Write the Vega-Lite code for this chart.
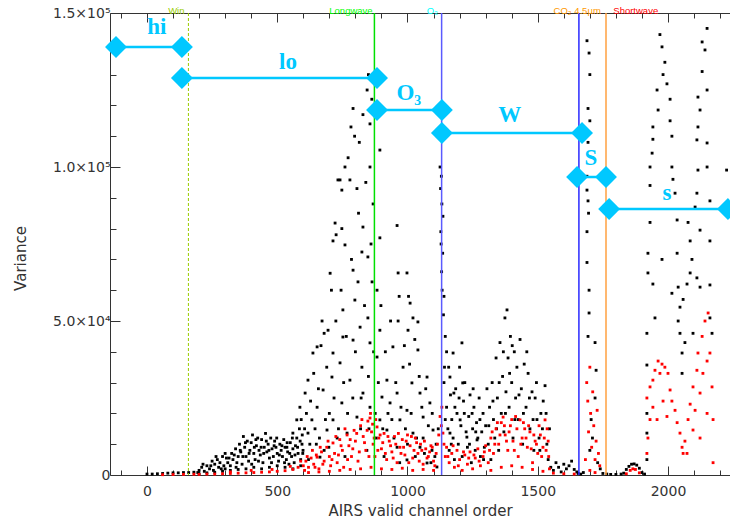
{
"$schema": "https://vega.github.io/schema/vega-lite/v6.json",
"width": 620, "height": 462,
"autosize": {"type": "none"},
"padding": {"left": 110, "top": 13, "right": 0, "bottom": 44},
"background": "white",
"config": {"view": {"stroke": null}},
"datasets": {
"pts": [
{"x":0,"y":300,"c":"b"},{"x":20,"y":300,"c":"b"},{"x":40,"y":400,"c":"b"},{"x":60,"y":500,"c":"b"},{"x":80,"y":600,"c":"b"},{"x":100,"y":700,"c":"b"},{"x":120,"y":700,"c":"b"},{"x":140,"y":800,"c":"b"},{"x":160,"y":800,"c":"b"},{"x":180,"y":900,"c":"b"},
{"x":195,"y":800,"c":"b"},{"x":200,"y":1500,"c":"b"},{"x":210,"y":2500,"c":"b"},{"x":220,"y":1200,"c":"b"},{"x":230,"y":3000,"c":"b"},{"x":240,"y":2000,"c":"b"},{"x":250,"y":4500,"c":"b"},{"x":255,"y":1500,"c":"b"},{"x":260,"y":3500,"c":"b"},{"x":270,"y":5000,"c":"b"},{"x":275,"y":2500,"c":"b"},{"x":280,"y":4000,"c":"b"},{"x":290,"y":6000,"c":"b"},{"x":295,"y":3000,"c":"b"},{"x":300,"y":2000,"c":"b"},{"x":305,"y":5500,"c":"b"},{"x":310,"y":4000,"c":"b"},{"x":320,"y":3000,"c":"b"},{"x":325,"y":7000,"c":"b"},{"x":330,"y":5000,"c":"b"},{"x":340,"y":8500,"c":"b"},{"x":345,"y":4000,"c":"b"},{"x":350,"y":6000,"c":"b"},{"x":355,"y":10000,"c":"b"},{"x":360,"y":7500,"c":"b"},{"x":365,"y":3500,"c":"b"},{"x":370,"y":12500,"c":"b"},{"x":375,"y":9000,"c":"b"},{"x":380,"y":6000,"c":"b"},{"x":385,"y":11000,"c":"b"},{"x":390,"y":4500,"c":"b"},{"x":395,"y":8000,"c":"b"},{"x":400,"y":10500,"c":"b"},{"x":405,"y":13000,"c":"b"},{"x":410,"y":7000,"c":"b"},{"x":415,"y":5000,"c":"b"},{"x":420,"y":9500,"c":"b"},{"x":425,"y":12000,"c":"b"},{"x":430,"y":8000,"c":"b"},{"x":435,"y":6500,"c":"b"},{"x":440,"y":11500,"c":"b"},{"x":445,"y":4000,"c":"b"},{"x":450,"y":9000,"c":"b"},{"x":455,"y":13500,"c":"b"},{"x":460,"y":7500,"c":"b"},{"x":465,"y":10000,"c":"b"},{"x":470,"y":5500,"c":"b"},{"x":475,"y":12000,"c":"b"},{"x":480,"y":8500,"c":"b"},{"x":485,"y":6000,"c":"b"},{"x":490,"y":11000,"c":"b"},{"x":495,"y":9000,"c":"b"},{"x":500,"y":7000,"c":"b"},{"x":505,"y":4500,"c":"b"},{"x":510,"y":10000,"c":"b"},{"x":515,"y":8000,"c":"b"},{"x":520,"y":6000,"c":"b"},{"x":525,"y":11500,"c":"b"},{"x":530,"y":9000,"c":"b"},{"x":535,"y":5000,"c":"b"},{"x":540,"y":7500,"c":"b"},{"x":545,"y":3500,"c":"b"},{"x":550,"y":10500,"c":"b"},{"x":555,"y":6000,"c":"b"},{"x":560,"y":8500,"c":"b"},{"x":565,"y":4000,"c":"b"},{"x":570,"y":9500,"c":"b"},{"x":575,"y":12000,"c":"b"},{"x":580,"y":7000,"c":"b"},{"x":585,"y":15000,"c":"b"},{"x":590,"y":5000,"c":"b"},{"x":595,"y":10000,"c":"b"},
{"x":200,"y":400,"c":"b"},{"x":230,"y":700,"c":"b"},{"x":260,"y":900,"c":"b"},{"x":290,"y":1200,"c":"b"},{"x":320,"y":1500,"c":"b"},{"x":350,"y":1800,"c":"b"},{"x":380,"y":2000,"c":"b"},{"x":410,"y":2500,"c":"b"},{"x":440,"y":2000,"c":"b"},{"x":470,"y":2500,"c":"b"},{"x":500,"y":3000,"c":"b"},{"x":530,"y":2500,"c":"b"},{"x":560,"y":2000,"c":"b"},{"x":590,"y":3000,"c":"b"},
{"x":215,"y":3500,"c":"b"},{"x":245,"y":3000,"c":"b"},{"x":265,"y":6000,"c":"b"},{"x":285,"y":2000,"c":"b"},{"x":300,"y":7000,"c":"b"},{"x":315,"y":5500,"c":"b"},{"x":335,"y":6500,"c":"b"},{"x":342,"y":2500,"c":"b"},{"x":358,"y":8000,"c":"b"},{"x":368,"y":6000,"c":"b"},{"x":378,"y":10500,"c":"b"},{"x":392,"y":7000,"c":"b"},{"x":402,"y":3500,"c":"b"},{"x":412,"y":9000,"c":"b"},{"x":418,"y":11500,"c":"b"},{"x":428,"y":4500,"c":"b"},{"x":438,"y":9000,"c":"b"},{"x":448,"y":7000,"c":"b"},{"x":458,"y":11000,"c":"b"},{"x":468,"y":8000,"c":"b"},{"x":478,"y":4000,"c":"b"},{"x":488,"y":9500,"c":"b"},{"x":498,"y":12000,"c":"b"},{"x":508,"y":6500,"c":"b"},{"x":518,"y":9500,"c":"b"},{"x":528,"y":4000,"c":"b"},{"x":538,"y":10500,"c":"b"},{"x":548,"y":7000,"c":"b"},{"x":558,"y":12000,"c":"b"},{"x":568,"y":6500,"c":"b"},{"x":578,"y":9000,"c":"b"},{"x":588,"y":11000,"c":"b"},{"x":598,"y":7000,"c":"b"},{"x":592,"y":18000,"c":"b"},{"x":596,"y":13000,"c":"b"},
{"x":637,"y":39600,"c":"b"},{"x":672,"y":50000,"c":"b"},{"x":703,"y":65500,"c":"b"},{"x":722,"y":81800,"c":"b"},{"x":741,"y":95800,"c":"b"},{"x":772,"y":103000,"c":"b"},{"x":791,"y":119000,"c":"b"},{"x":829,"y":117000,"c":"b"},{"x":845,"y":125000,"c":"b"},{"x":856,"y":114000,"c":"b"},{"x":863,"y":122000,"c":"b"},{"x":850,"y":130000,"c":"b"},{"x":733,"y":95800,"c":"b"},{"x":779,"y":95800,"c":"b"},{"x":806,"y":93000,"c":"b"},{"x":748,"y":92500,"c":"b"},{"x":856,"y":100000,"c":"b"},{"x":894,"y":105500,"c":"b"},{"x":868,"y":88000,"c":"b"},{"x":726,"y":78000,"c":"b"},{"x":748,"y":80000,"c":"b"},{"x":829,"y":80500,"c":"b"},{"x":960,"y":81000,"c":"b"},{"x":714,"y":76000,"c":"b"},{"x":760,"y":74700,"c":"b"},{"x":894,"y":77000,"c":"b"},{"x":825,"y":72400,"c":"b"},{"x":791,"y":66500,"c":"b"},{"x":708,"y":60000,"c":"b"},{"x":848,"y":70800,"c":"b"},{"x":964,"y":65600,"c":"b"},{"x":998,"y":65600,"c":"b"},{"x":810,"y":62700,"c":"b"},{"x":864,"y":62700,"c":"b"},{"x":1004,"y":58000,"c":"b"},{"x":883,"y":60000,"c":"b"},{"x":798,"y":56800,"c":"b"},{"x":752,"y":53600,"c":"b"},{"x":1010,"y":55800,"c":"b"},{"x":1021,"y":51000,"c":"b"},{"x":848,"y":51000,"c":"b"},{"x":680,"y":46000,"c":"b"},{"x":964,"y":50000,"c":"b"},{"x":1040,"y":49700,"c":"b"},{"x":818,"y":48000,"c":"b"},{"x":695,"y":47000,"c":"b"},{"x":1002,"y":47000,"c":"b"},{"x":894,"y":47000,"c":"b"},{"x":752,"y":44800,"c":"b"},{"x":791,"y":43800,"c":"b"},{"x":668,"y":42000,"c":"b"},{"x":856,"y":42900,"c":"b"},{"x":653,"y":41600,"c":"b"},{"x":944,"y":41600,"c":"b"},{"x":1040,"y":40600,"c":"b"},{"x":714,"y":39600,"c":"b"},{"x":741,"y":36400,"c":"b"},{"x":883,"y":38300,"c":"b"},{"x":640,"y":33000,"c":"b"},{"x":825,"y":35000,"c":"b"},{"x":983,"y":35000,"c":"b"},{"x":618,"y":30800,"c":"b"},{"x":710,"y":31800,"c":"b"},{"x":779,"y":30800,"c":"b"},{"x":921,"y":30800,"c":"b"},{"x":1017,"y":29900,"c":"b"},{"x":1075,"y":31800,"c":"b"},{"x":607,"y":26600,"c":"b"},{"x":676,"y":27600,"c":"b"},{"x":829,"y":26600,"c":"b"},{"x":902,"y":25300,"c":"b"},{"x":960,"y":26600,"c":"b"},{"x":1048,"y":26600,"c":"b"},{"x":587,"y":22000,"c":"b"},{"x":653,"y":22000,"c":"b"},{"x":748,"y":23400,"c":"b"},{"x":856,"y":22000,"c":"b"},{"x":933,"y":23400,"c":"b"},{"x":998,"y":21000,"c":"b"},{"x":1086,"y":23400,"c":"b"},{"x":575,"y":17900,"c":"b"},{"x":633,"y":17900,"c":"b"},{"x":714,"y":17900,"c":"b"},{"x":806,"y":18800,"c":"b"},{"x":894,"y":17900,"c":"b"},{"x":971,"y":17900,"c":"b"},{"x":1060,"y":18800,"c":"b"},{"x":560,"y":13600,"c":"b"},{"x":618,"y":13600,"c":"b"},{"x":691,"y":14600,"c":"b"},{"x":768,"y":13600,"c":"b"},{"x":921,"y":14600,"c":"b"},{"x":1021,"y":13600,"c":"b"},{"x":1098,"y":14600,"c":"b"},{"x":537,"y":9000,"c":"b"},{"x":599,"y":8000,"c":"b"},{"x":844,"y":8000,"c":"b"},{"x":960,"y":9000,"c":"b"},{"x":1048,"y":9000,"c":"b"},{"x":1094,"y":8000,"c":"b"},{"x":664,"y":5800,"c":"b"},{"x":998,"y":4900,"c":"b"},{"x":1075,"y":3900,"c":"b"},{"x":1113,"y":2600,"c":"b"},{"x":797,"y":110000,"c":"b"},{"x":815,"y":108000,"c":"b"},{"x":760,"y":100000,"c":"b"},{"x":783,"y":113000,"c":"b"},
{"x":620,"y":5000,"c":"b"},{"x":650,"y":10000,"c":"b"},{"x":680,"y":8000,"c":"b"},{"x":700,"y":20000,"c":"b"},{"x":730,"y":12000,"c":"b"},{"x":760,"y":6000,"c":"b"},{"x":790,"y":25000,"c":"b"},{"x":820,"y":15000,"c":"b"},{"x":850,"y":32000,"c":"b"},{"x":880,"y":12000,"c":"b"},{"x":910,"y":6000,"c":"b"},{"x":940,"y":18000,"c":"b"},{"x":970,"y":4000,"c":"b"},{"x":1000,"y":10000,"c":"b"},{"x":1030,"y":6000,"c":"b"},{"x":1060,"y":12000,"c":"b"},{"x":1090,"y":4000,"c":"b"},{"x":1110,"y":10000,"c":"b"},
{"x":605,"y":15000,"c":"b"},{"x":612,"y":20000,"c":"b"},{"x":625,"y":10000,"c":"b"},{"x":628,"y":24000,"c":"b"},{"x":645,"y":15000,"c":"b"},{"x":658,"y":28000,"c":"b"},{"x":662,"y":12000,"c":"b"},{"x":685,"y":18000,"c":"b"},{"x":690,"y":35000,"c":"b"},{"x":698,"y":9000,"c":"b"},{"x":718,"y":25000,"c":"b"},{"x":725,"y":50000,"c":"b"},{"x":735,"y":15000,"c":"b"},{"x":745,"y":60000,"c":"b"},{"x":755,"y":30000,"c":"b"},{"x":765,"y":45000,"c":"b"},{"x":770,"y":20000,"c":"b"},{"x":785,"y":70000,"c":"b"},{"x":800,"y":40000,"c":"b"},{"x":812,"y":85000,"c":"b"},{"x":822,"y":25000,"c":"b"},{"x":835,"y":55000,"c":"b"},{"x":840,"y":95000,"c":"b"},{"x":852,"y":15000,"c":"b"},{"x":860,"y":75000,"c":"b"},{"x":870,"y":40000,"c":"b"},{"x":876,"y":20000,"c":"b"},{"x":888,"y":30000,"c":"b"},{"x":898,"y":55000,"c":"b"},{"x":905,"y":15000,"c":"b"},{"x":915,"y":40000,"c":"b"},{"x":925,"y":20000,"c":"b"},{"x":935,"y":50000,"c":"b"},{"x":948,"y":12000,"c":"b"},{"x":955,"y":30000,"c":"b"},{"x":968,"y":58000,"c":"b"},{"x":975,"y":22000,"c":"b"},{"x":988,"y":42000,"c":"b"},{"x":992,"y":15000,"c":"b"},{"x":1008,"y":36000,"c":"b"},{"x":1014,"y":20000,"c":"b"},{"x":1028,"y":44000,"c":"b"},{"x":1035,"y":12000,"c":"b"},{"x":1045,"y":32000,"c":"b"},{"x":1055,"y":22000,"c":"b"},{"x":1065,"y":7000,"c":"b"},{"x":1070,"y":28000,"c":"b"},{"x":1080,"y":16000,"c":"b"},{"x":1095,"y":20000,"c":"b"},{"x":1105,"y":6000,"c":"b"},{"x":1118,"y":15000,"c":"b"},
{"x":1125,"y":100000,"c":"b"},{"x":1130,"y":97000,"c":"b"},{"x":1127,"y":93000,"c":"b"},{"x":1132,"y":88000,"c":"b"},{"x":1128,"y":79000,"c":"b"},{"x":1135,"y":72000,"c":"b"},{"x":1131,"y":66000,"c":"b"},{"x":1140,"y":58000,"c":"b"},{"x":1138,"y":52000,"c":"b"},{"x":1145,"y":45000,"c":"b"},{"x":1150,"y":40000,"c":"b"},{"x":1133,"y":60000,"c":"b"},{"x":1136,"y":84000,"c":"b"},{"x":1142,"y":35000,"c":"b"},{"x":1129,"y":75000,"c":"b"},
{"x":1163,"y":31800,"c":"b"},{"x":1175,"y":39600,"c":"b"},{"x":1209,"y":42900,"c":"b"},{"x":1212,"y":29900,"c":"b"},{"x":1178,"y":26600,"c":"b"},{"x":1248,"y":20000,"c":"b"},{"x":1202,"y":17900,"c":"b"},{"x":1163,"y":13600,"c":"b"},{"x":1228,"y":12300,"c":"b"},{"x":1267,"y":11400,"c":"b"},{"x":1140,"y":30000,"c":"b"},{"x":1150,"y":22000,"c":"b"},{"x":1155,"y":15000,"c":"b"},{"x":1160,"y":8000,"c":"b"},{"x":1165,"y":26000,"c":"b"},{"x":1170,"y":18000,"c":"b"},{"x":1175,"y":12000,"c":"b"},{"x":1180,"y":5000,"c":"b"},{"x":1185,"y":28000,"c":"b"},{"x":1190,"y":20000,"c":"b"},{"x":1195,"y":10000,"c":"b"},{"x":1200,"y":35000,"c":"b"},{"x":1205,"y":16000,"c":"b"},{"x":1210,"y":6000,"c":"b"},{"x":1215,"y":24000,"c":"b"},{"x":1220,"y":30000,"c":"b"},{"x":1225,"y":14000,"c":"b"},{"x":1230,"y":9000,"c":"b"},{"x":1235,"y":19000,"c":"b"},{"x":1240,"y":26000,"c":"b"},{"x":1245,"y":4000,"c":"b"},{"x":1250,"y":15000,"c":"b"},{"x":1255,"y":22000,"c":"b"},{"x":1260,"y":8000,"c":"b"},{"x":1265,"y":17000,"c":"b"},{"x":1270,"y":12000,"c":"b"},{"x":1275,"y":25000,"c":"b"},{"x":1280,"y":6000,"c":"b"},{"x":1285,"y":14000,"c":"b"},{"x":1290,"y":20000,"c":"b"},{"x":1295,"y":9000,"c":"b"},{"x":1300,"y":16000,"c":"b"},
{"x":1145,"y":18000,"c":"b"},{"x":1158,"y":35000,"c":"b"},{"x":1168,"y":10000,"c":"b"},{"x":1182,"y":22000,"c":"b"},{"x":1198,"y":25000,"c":"b"},{"x":1218,"y":20000,"c":"b"},{"x":1238,"y":10000,"c":"b"},{"x":1252,"y":28000,"c":"b"},{"x":1262,"y":14000,"c":"b"},{"x":1278,"y":18000,"c":"b"},{"x":1292,"y":5000,"c":"b"},{"x":1312,"y":16000,"c":"b"},{"x":1328,"y":24000,"c":"b"},{"x":1342,"y":15000,"c":"b"},{"x":1352,"y":30000,"c":"b"},{"x":1368,"y":40000,"c":"b"},{"x":1376,"y":20000,"c":"b"},{"x":1392,"y":33000,"c":"b"},{"x":1402,"y":42000,"c":"b"},{"x":1412,"y":18000,"c":"b"},{"x":1428,"y":26000,"c":"b"},{"x":1445,"y":20000,"c":"b"},{"x":1458,"y":40000,"c":"b"},{"x":1468,"y":25000,"c":"b"},{"x":1482,"y":18000,"c":"b"},{"x":1495,"y":30000,"c":"b"},{"x":1508,"y":8000,"c":"b"},{"x":1518,"y":15000,"c":"b"},{"x":1532,"y":20000,"c":"b"},
{"x":1305,"y":28000,"c":"b"},{"x":1310,"y":10000,"c":"b"},{"x":1315,"y":22000,"c":"b"},{"x":1320,"y":5000,"c":"b"},{"x":1325,"y":30000,"c":"b"},{"x":1330,"y":18000,"c":"b"},{"x":1335,"y":12000,"c":"b"},{"x":1340,"y":38000,"c":"b"},{"x":1345,"y":25000,"c":"b"},{"x":1350,"y":8000,"c":"b"},{"x":1355,"y":43000,"c":"b"},{"x":1360,"y":20000,"c":"b"},{"x":1365,"y":32000,"c":"b"},{"x":1370,"y":14000,"c":"b"},{"x":1374,"y":51000,"c":"b"},{"x":1378,"y":27000,"c":"b"},{"x":1382,"y":53600,"c":"b"},{"x":1386,"y":38000,"c":"b"},{"x":1390,"y":22000,"c":"b"},{"x":1395,"y":45000,"c":"b"},{"x":1400,"y":30000,"c":"b"},{"x":1405,"y":12000,"c":"b"},{"x":1410,"y":40000,"c":"b"},{"x":1415,"y":25000,"c":"b"},{"x":1420,"y":35000,"c":"b"},{"x":1425,"y":18000,"c":"b"},{"x":1432,"y":44000,"c":"b"},{"x":1437,"y":28000,"c":"b"},{"x":1442,"y":10000,"c":"b"},{"x":1448,"y":36000,"c":"b"},{"x":1455,"y":22000,"c":"b"},{"x":1463,"y":33000,"c":"b"},{"x":1470,"y":15000,"c":"b"},{"x":1478,"y":27000,"c":"b"},{"x":1485,"y":8000,"c":"b"},{"x":1490,"y":25000,"c":"b"},{"x":1497,"y":18000,"c":"b"},{"x":1505,"y":12000,"c":"b"},{"x":1512,"y":20000,"c":"b"},{"x":1521,"y":24000,"c":"b"},{"x":1528,"y":29000,"c":"b"},{"x":1535,"y":10000,"c":"b"},{"x":1540,"y":5000,"c":"b"},{"x":1545,"y":15000,"c":"b"},
{"x":1550,"y":2500,"c":"b"},{"x":1560,"y":1500,"c":"b"},{"x":1570,"y":4000,"c":"b"},{"x":1580,"y":2500,"c":"b"},{"x":1590,"y":1000,"c":"b"},{"x":1600,"y":3500,"c":"b"},{"x":1610,"y":2000,"c":"b"},{"x":1620,"y":3000,"c":"b"},{"x":1630,"y":4500,"c":"b"},{"x":1640,"y":1800,"c":"b"},{"x":1650,"y":1000,"c":"b"},{"x":1655,"y":500,"c":"b"},{"x":1665,"y":300,"c":"b"},{"x":1675,"y":800,"c":"b"},
{"x":1689,"y":141000,"c":"b"},{"x":1697,"y":137000,"c":"b"},{"x":1700,"y":130000,"c":"b"},{"x":1693,"y":119000,"c":"b"},{"x":1700,"y":115000,"c":"b"},{"x":1693,"y":108000,"c":"b"},{"x":1689,"y":97000,"c":"b"},{"x":1689,"y":92500,"c":"b"},{"x":1693,"y":89000,"c":"b"},{"x":1695,"y":85000,"c":"b"},{"x":1689,"y":79000,"c":"b"},{"x":1689,"y":69000,"c":"b"},{"x":1697,"y":60000,"c":"b"},{"x":1697,"y":52600,"c":"b"},{"x":1693,"y":45000,"c":"b"},{"x":1720,"y":43000,"c":"b"},{"x":1724,"y":34000,"c":"b"},{"x":1720,"y":25000,"c":"b"},{"x":1705,"y":18000,"c":"b"},{"x":1700,"y":8000,"c":"b"},{"x":1710,"y":12000,"c":"b"},{"x":1730,"y":4000,"c":"b"},{"x":1740,"y":2000,"c":"b"},{"x":1750,"y":500,"c":"b"},
{"x":1765,"y":300,"c":"b"},{"x":1780,"y":200,"c":"b"},{"x":1800,"y":200,"c":"b"},{"x":1820,"y":300,"c":"b"},{"x":1830,"y":600,"c":"b"},{"x":1840,"y":1800,"c":"b"},{"x":1850,"y":2800,"c":"b"},{"x":1860,"y":3500,"c":"b"},{"x":1870,"y":3600,"c":"b"},{"x":1880,"y":3200,"c":"b"},{"x":1890,"y":2200,"c":"b"},{"x":1900,"y":800,"c":"b"},{"x":1910,"y":300,"c":"b"},
{"x":1969,"y":143000,"c":"b"},{"x":1977,"y":139000,"c":"b"},{"x":1988,"y":134000,"c":"b"},{"x":1981,"y":130000,"c":"b"},{"x":1996,"y":127000,"c":"b"},{"x":1958,"y":125000,"c":"b"},{"x":2008,"y":122000,"c":"b"},{"x":1962,"y":118500,"c":"b"},{"x":1942,"y":113000,"c":"b"},{"x":2008,"y":115000,"c":"b"},{"x":1942,"y":109000,"c":"b"},{"x":2015,"y":110000,"c":"b"},{"x":1939,"y":104500,"c":"b"},{"x":1931,"y":100000,"c":"b"},{"x":2015,"y":100000,"c":"b"},{"x":1931,"y":94000,"c":"b"},{"x":2019,"y":96000,"c":"b"},{"x":2027,"y":91500,"c":"b"},{"x":1931,"y":82000,"c":"b"},{"x":2035,"y":82800,"c":"b"},{"x":1923,"y":72000,"c":"b"},{"x":1977,"y":70000,"c":"b"},{"x":2035,"y":72000,"c":"b"},{"x":1923,"y":65600,"c":"b"},{"x":1942,"y":62000,"c":"b"},{"x":2039,"y":61000,"c":"b"},{"x":2015,"y":59000,"c":"b"},{"x":2046,"y":54500,"c":"b"},{"x":1950,"y":51000,"c":"b"},{"x":2039,"y":50000,"c":"b"},{"x":1919,"y":46000,"c":"b"},{"x":2046,"y":46000,"c":"b"},{"x":2054,"y":39600,"c":"b"},{"x":1919,"y":35700,"c":"b"},{"x":2054,"y":33000,"c":"b"},{"x":1919,"y":20000,"c":"b"},{"x":1919,"y":13600,"c":"b"},{"x":1919,"y":5000,"c":"b"},
{"x":2150,"y":145000,"c":"b"},{"x":2131,"y":140600,"c":"b"},{"x":2142,"y":138000,"c":"b"},{"x":2131,"y":131000,"c":"b"},{"x":2150,"y":125000,"c":"b"},{"x":2115,"y":122700,"c":"b"},{"x":2123,"y":118500,"c":"b"},{"x":2115,"y":113000,"c":"b"},{"x":2150,"y":107800,"c":"b"},{"x":2111,"y":108800,"c":"b"},{"x":2115,"y":99000,"c":"b"},{"x":2150,"y":100000,"c":"b"},{"x":2111,"y":91500,"c":"b"},{"x":2161,"y":89000,"c":"b"},{"x":2104,"y":87000,"c":"b"},{"x":2077,"y":82000,"c":"b"},{"x":2123,"y":79500,"c":"b"},{"x":2085,"y":76000,"c":"b"},{"x":2161,"y":76000,"c":"b"},{"x":2092,"y":70000,"c":"b"},{"x":2085,"y":65600,"c":"b"},{"x":2111,"y":64000,"c":"b"},{"x":2073,"y":62000,"c":"b"},{"x":2123,"y":61000,"c":"b"},{"x":2161,"y":61700,"c":"b"},{"x":2058,"y":57000,"c":"b"},{"x":2161,"y":51000,"c":"b"},{"x":2096,"y":46000,"c":"b"},{"x":2065,"y":43000,"c":"b"},{"x":2169,"y":46000,"c":"b"},{"x":2225,"y":99000,"c":"b"},
{"x":60,"y":100,"c":"r"},{"x":100,"y":150,"c":"r"},{"x":140,"y":200,"c":"r"},{"x":180,"y":250,"c":"r"},
{"x":200,"y":200,"c":"r"},{"x":230,"y":300,"c":"r"},{"x":260,"y":300,"c":"r"},{"x":290,"y":400,"c":"r"},{"x":320,"y":500,"c":"r"},{"x":350,"y":600,"c":"r"},{"x":380,"y":700,"c":"r"},{"x":410,"y":800,"c":"r"},{"x":440,"y":900,"c":"r"},{"x":470,"y":1000,"c":"r"},{"x":500,"y":1200,"c":"r"},{"x":530,"y":1400,"c":"r"},{"x":560,"y":1800,"c":"r"},{"x":580,"y":2500,"c":"r"},{"x":320,"y":1000,"c":"r"},{"x":400,"y":1500,"c":"r"},{"x":480,"y":1800,"c":"r"},{"x":550,"y":2800,"c":"r"},{"x":590,"y":4500,"c":"r"},
{"x":600,"y":3000,"c":"r"},{"x":605,"y":1500,"c":"r"},{"x":610,"y":4500,"c":"r"},{"x":620,"y":2500,"c":"r"},{"x":630,"y":5500,"c":"r"},{"x":640,"y":3500,"c":"r"},{"x":650,"y":6500,"c":"r"},{"x":653,"y":5800,"c":"r"},{"x":660,"y":2000,"c":"r"},{"x":670,"y":7500,"c":"r"},{"x":680,"y":4500,"c":"r"},{"x":690,"y":9000,"c":"r"},{"x":700,"y":6000,"c":"r"},{"x":705,"y":3000,"c":"r"},{"x":714,"y":10400,"c":"r"},{"x":720,"y":7000,"c":"r"},{"x":730,"y":4000,"c":"r"},{"x":740,"y":11500,"c":"r"},{"x":750,"y":8000,"c":"r"},{"x":755,"y":2500,"c":"r"},{"x":768,"y":13000,"c":"r"},{"x":775,"y":9500,"c":"r"},{"x":785,"y":6000,"c":"r"},{"x":795,"y":14500,"c":"r"},{"x":800,"y":11000,"c":"r"},{"x":810,"y":4500,"c":"r"},{"x":820,"y":16000,"c":"r"},{"x":830,"y":12500,"c":"r"},{"x":840,"y":8000,"c":"r"},{"x":848,"y":17500,"c":"r"},{"x":856,"y":18500,"c":"r"},{"x":862,"y":14000,"c":"r"},{"x":868,"y":10000,"c":"r"},{"x":875,"y":6000,"c":"r"},{"x":883,"y":15600,"c":"r"},{"x":890,"y":12000,"c":"r"},{"x":900,"y":8500,"c":"r"},{"x":910,"y":13500,"c":"r"},{"x":920,"y":5000,"c":"r"},{"x":930,"y":11000,"c":"r"},{"x":940,"y":7500,"c":"r"},{"x":950,"y":12500,"c":"r"},{"x":960,"y":4000,"c":"r"},{"x":971,"y":9000,"c":"r"},{"x":980,"y":11500,"c":"r"},{"x":990,"y":6500,"c":"r"},{"x":1000,"y":13000,"c":"r"},{"x":1010,"y":9500,"c":"r"},{"x":1020,"y":5500,"c":"r"},{"x":1030,"y":12000,"c":"r"},{"x":1040,"y":7000,"c":"r"},{"x":1050,"y":10000,"c":"r"},{"x":1060,"y":3500,"c":"r"},{"x":1070,"y":8500,"c":"r"},{"x":1080,"y":6000,"c":"r"},{"x":1090,"y":9500,"c":"r"},{"x":1100,"y":4500,"c":"r"},{"x":1110,"y":7000,"c":"r"},{"x":1120,"y":13000,"c":"r"},{"x":1125,"y":19000,"c":"r"},{"x":1130,"y":16000,"c":"r"},{"x":1132,"y":22000,"c":"r"},{"x":1136,"y":13600,"c":"r"},{"x":1140,"y":10000,"c":"r"},{"x":1145,"y":6000,"c":"r"},
{"x":615,"y":6000,"c":"r"},{"x":635,"y":8000,"c":"r"},{"x":645,"y":2500,"c":"r"},{"x":665,"y":9000,"c":"r"},{"x":675,"y":3500,"c":"r"},{"x":695,"y":11000,"c":"r"},{"x":710,"y":5000,"c":"r"},{"x":725,"y":12500,"c":"r"},{"x":735,"y":6500,"c":"r"},{"x":745,"y":9500,"c":"r"},{"x":760,"y":15000,"c":"r"},{"x":770,"y":5000,"c":"r"},{"x":780,"y":11500,"c":"r"},{"x":790,"y":8500,"c":"r"},{"x":805,"y":13500,"c":"r"},{"x":815,"y":7500,"c":"r"},{"x":825,"y":18000,"c":"r"},{"x":835,"y":10500,"c":"r"},{"x":845,"y":14500,"c":"r"},{"x":852,"y":6000,"c":"r"},{"x":858,"y":20000,"c":"r"},{"x":866,"y":16500,"c":"r"},{"x":872,"y":12000,"c":"r"},{"x":878,"y":18000,"c":"r"},{"x":886,"y":8000,"c":"r"},{"x":895,"y":13000,"c":"r"},{"x":905,"y":10500,"c":"r"},{"x":915,"y":7000,"c":"r"},{"x":925,"y":12500,"c":"r"},{"x":935,"y":9500,"c":"r"},{"x":945,"y":5500,"c":"r"},{"x":955,"y":10000,"c":"r"},{"x":965,"y":13500,"c":"r"},{"x":975,"y":7000,"c":"r"},{"x":985,"y":9000,"c":"r"},{"x":995,"y":11000,"c":"r"},{"x":1005,"y":4000,"c":"r"},{"x":1015,"y":12500,"c":"r"},{"x":1025,"y":8000,"c":"r"},{"x":1035,"y":10500,"c":"r"},{"x":1045,"y":4500,"c":"r"},{"x":1055,"y":8000,"c":"r"},{"x":1065,"y":11000,"c":"r"},{"x":1075,"y":5500,"c":"r"},{"x":1085,"y":7500,"c":"r"},{"x":1095,"y":9000,"c":"r"},{"x":1105,"y":3000,"c":"r"},{"x":1115,"y":10000,"c":"r"},
{"x":620,"y":800,"c":"r"},{"x":660,"y":1000,"c":"r"},{"x":700,"y":1200,"c":"r"},{"x":740,"y":1500,"c":"r"},{"x":780,"y":1800,"c":"r"},{"x":820,"y":2000,"c":"r"},{"x":860,"y":2500,"c":"r"},{"x":900,"y":2000,"c":"r"},{"x":940,"y":1800,"c":"r"},{"x":980,"y":2200,"c":"r"},{"x":1020,"y":1500,"c":"r"},{"x":1060,"y":1800,"c":"r"},{"x":1100,"y":1500,"c":"r"},
{"x":1150,"y":9000,"c":"r"},{"x":1160,"y":4000,"c":"r"},{"x":1170,"y":7000,"c":"r"},{"x":1180,"y":2500,"c":"r"},{"x":1190,"y":8000,"c":"r"},{"x":1200,"y":5000,"c":"r"},{"x":1210,"y":1500,"c":"r"},{"x":1220,"y":6500,"c":"r"},{"x":1230,"y":3500,"c":"r"},{"x":1240,"y":7500,"c":"r"},{"x":1250,"y":2000,"c":"r"},{"x":1260,"y":5500,"c":"r"},{"x":1270,"y":8500,"c":"r"},{"x":1280,"y":3000,"c":"r"},{"x":1290,"y":6000,"c":"r"},{"x":1300,"y":9500,"c":"r"},
{"x":1155,"y":6000,"c":"r"},{"x":1175,"y":9500,"c":"r"},{"x":1195,"y":3000,"c":"r"},{"x":1215,"y":7500,"c":"r"},{"x":1235,"y":5500,"c":"r"},{"x":1255,"y":6500,"c":"r"},{"x":1275,"y":4500,"c":"r"},{"x":1295,"y":7500,"c":"r"},{"x":1315,"y":8000,"c":"r"},{"x":1325,"y":14000,"c":"r"},{"x":1335,"y":10000,"c":"r"},{"x":1345,"y":17000,"c":"r"},{"x":1355,"y":13000,"c":"r"},{"x":1372,"y":16000,"c":"r"},{"x":1380,"y":11000,"c":"r"},{"x":1390,"y":14000,"c":"r"},{"x":1400,"y":18000,"c":"r"},{"x":1410,"y":8000,"c":"r"},{"x":1420,"y":15000,"c":"r"},{"x":1435,"y":10000,"c":"r"},{"x":1445,"y":17000,"c":"r"},{"x":1455,"y":12000,"c":"r"},{"x":1465,"y":16000,"c":"r"},{"x":1475,"y":8500,"c":"r"},{"x":1485,"y":13000,"c":"r"},{"x":1495,"y":10000,"c":"r"},{"x":1505,"y":16000,"c":"r"},{"x":1515,"y":6000,"c":"r"},{"x":1525,"y":12000,"c":"r"},{"x":1532,"y":8000,"c":"r"},{"x":1540,"y":11000,"c":"r"},
{"x":1310,"y":4000,"c":"r"},{"x":1320,"y":12000,"c":"r"},{"x":1330,"y":7000,"c":"r"},{"x":1340,"y":15000,"c":"r"},{"x":1350,"y":10000,"c":"r"},{"x":1360,"y":17000,"c":"r"},{"x":1367,"y":18800,"c":"r"},{"x":1375,"y":13000,"c":"r"},{"x":1385,"y":8000,"c":"r"},{"x":1395,"y":16000,"c":"r"},{"x":1405,"y":11000,"c":"r"},{"x":1415,"y":19000,"c":"r"},{"x":1425,"y":6000,"c":"r"},{"x":1432,"y":17900,"c":"r"},{"x":1440,"y":12000,"c":"r"},{"x":1450,"y":15000,"c":"r"},{"x":1460,"y":9000,"c":"r"},{"x":1470,"y":14000,"c":"r"},{"x":1480,"y":4000,"c":"r"},{"x":1490,"y":11000,"c":"r"},{"x":1500,"y":7000,"c":"r"},{"x":1510,"y":13000,"c":"r"},{"x":1520,"y":9000,"c":"r"},{"x":1528,"y":17900,"c":"r"},{"x":1536,"y":15000,"c":"r"},{"x":1542,"y":6000,"c":"r"},{"x":1545,"y":2000,"c":"r"},
{"x":1320,"y":1500,"c":"r"},{"x":1360,"y":2500,"c":"r"},{"x":1400,"y":3000,"c":"r"},{"x":1440,"y":2500,"c":"r"},{"x":1480,"y":1800,"c":"r"},{"x":1520,"y":1200,"c":"r"},
{"x":1560,"y":600,"c":"r"},{"x":1600,"y":400,"c":"r"},{"x":1640,"y":300,"c":"r"},
{"x":1683,"y":5000,"c":"r"},{"x":1688,"y":30000,"c":"r"},{"x":1692,"y":24000,"c":"r"},{"x":1695,"y":14000,"c":"r"},{"x":1700,"y":35000,"c":"r"},{"x":1703,"y":20000,"c":"r"},{"x":1707,"y":9000,"c":"r"},{"x":1711,"y":27000,"c":"r"},{"x":1715,"y":16000,"c":"r"},{"x":1720,"y":5000,"c":"r"},{"x":1724,"y":11000,"c":"r"},{"x":1728,"y":21000,"c":"r"},{"x":1733,"y":7000,"c":"r"},{"x":1738,"y":3000,"c":"r"},{"x":1700,"y":1500,"c":"r"},{"x":1720,"y":800,"c":"r"},
{"x":1840,"y":400,"c":"r"},{"x":1855,"y":1500,"c":"r"},{"x":1865,"y":2000,"c":"r"},{"x":1875,"y":1800,"c":"r"},{"x":1890,"y":700,"c":"r"},
{"x":1919,"y":25000,"c":"r"},{"x":1931,"y":28600,"c":"r"},{"x":1942,"y":30800,"c":"r"},{"x":1962,"y":37000,"c":"r"},{"x":1977,"y":36000,"c":"r"},{"x":1988,"y":35000,"c":"r"},{"x":2000,"y":33000,"c":"r"},{"x":2008,"y":27600,"c":"r"},{"x":2015,"y":24000,"c":"r"},{"x":2027,"y":21000,"c":"r"},{"x":2035,"y":17000,"c":"r"},{"x":2046,"y":13600,"c":"r"},{"x":2054,"y":9000,"c":"r"},{"x":2058,"y":7000,"c":"r"},{"x":1931,"y":18000,"c":"r"},{"x":1923,"y":12000,"c":"r"},{"x":1919,"y":7000,"c":"r"},{"x":1942,"y":22000,"c":"r"},{"x":1958,"y":18000,"c":"r"},{"x":1996,"y":19000,"c":"r"},{"x":1981,"y":24000,"c":"r"},{"x":1969,"y":33000,"c":"r"},{"x":1950,"y":34000,"c":"r"},
{"x":2065,"y":11000,"c":"r"},{"x":2077,"y":18000,"c":"r"},{"x":2085,"y":23000,"c":"r"},{"x":2096,"y":28600,"c":"r"},{"x":2111,"y":34000,"c":"r"},{"x":2115,"y":39600,"c":"r"},{"x":2131,"y":45000,"c":"r"},{"x":2142,"y":50000,"c":"r"},{"x":2154,"y":52600,"c":"r"},{"x":2161,"y":39600,"c":"r"},{"x":2169,"y":28600,"c":"r"},{"x":2173,"y":18000,"c":"r"},{"x":2173,"y":4000,"c":"r"},{"x":2073,"y":7000,"c":"r"},{"x":2104,"y":21000,"c":"r"},{"x":2123,"y":26600,"c":"r"},{"x":2134,"y":33000,"c":"r"},{"x":2150,"y":37000,"c":"r"},{"x":2096,"y":14600,"c":"r"},{"x":2123,"y":12000,"c":"r"},{"x":2150,"y":20000,"c":"r"}
],
"segs": [
{"name":"hi","x1":-119,"x2":134,"y":138960},
{"name":"lo","x1":134,"x2":883,"y":128900},
{"name":"O3","x1":883,"x2":1132,"y":118500},
{"name":"W","x1":1132,"x2":1670,"y":111040},
{"name":"S","x1":1651,"x2":1762,"y":96750},
{"name":"s","x1":1774,"x2":2230,"y":86360}
],
"ends": [
{"x":-119,"y":138960},{"x":134,"y":138960},
{"x":134,"y":128900},{"x":883,"y":128900},
{"x":883,"y":118500},{"x":1132,"y":118500},
{"x":1132,"y":111040},{"x":1670,"y":111040},
{"x":1651,"y":96750},{"x":1762,"y":96750},
{"x":1774,"y":86360},{"x":2230,"y":86360}
],
"vlines": [
{"x":873,"col":"#00e000"},
{"x":1131,"col":"#5a5aff"},
{"x":1658,"col":"#2a2aff"},
{"x":1762,"col":"#ffa040"}
],
"dline": [{"x":159,"col":"#99cc00"}],
"labels": [
{"t":"hi","x":38,"y":145400},
{"t":"lo","x":541,"y":134100},
{"t":"O₃","x":1005,"y":124000},
{"t":"W","x":1393,"y":116900},
{"t":"S","x":1704,"y":102900},
{"t":"s","x":1996,"y":91600}
],
"toplabelsR": [
{"t":"Win","x":144,"y":150700,"col":"#99cc00"},
{"t":"Longwave","x":866,"y":150700,"col":"#00ff00"},
{"t":"O₃","x":1117,"y":150700,"col":"#00ffff"},
{"t":"CO₂ 4.5μm","x":1742,"y":150700,"col":"#ff9900"}
],
"toplabelsL": [
{"t":"Shortwave","x":1790,"y":150700,"col":"#ff0000"}
]
},
"layer": [
{
"data": {"name": "pts"},
"mark": {"type": "point", "shape": "square", "filled": true, "size": 8, "opacity": 1},
"encoding": {
"x": {"field": "x", "type": "quantitative",
"scale": {"domain": [-142, 2238], "nice": false, "zero": false},
"axis": {"orient": "bottom", "grid": false,
"values": [-100,0,100,200,300,400,500,600,700,800,900,1000,1100,1200,1300,1400,1500,1600,1700,1800,1900,2000,2100,2200],
"labelExpr": "datum.value % 500 === 0 ? '' + datum.value : ''",
"tickSize": {"condition": {"test": "datum.value % 500 === 0", "value": -9}, "value": -5},
"tickColor": "#333", "domainColor": "#333", "labelColor": "#333",
"labelFont": "DejaVu Sans", "labelFontSize": 14, "labelPadding": 18,
"title": "AIRS valid channel order", "titleFont": "DejaVu Sans", "titleFontSize": 15,
"titleFontWeight": "normal", "titleColor": "#333", "titleY": 35, "titleBaseline": "middle"}},
"y": {"field": "y", "type": "quantitative",
"scale": {"domain": [0, 150000], "nice": false, "zero": true},
"axis": {"orient": "left", "grid": false,
"values": [0,10000,20000,30000,40000,50000,60000,70000,80000,90000,100000,110000,120000,130000,140000,150000],
"labelExpr": "datum.value == 0 ? '0' : datum.value == 50000 ? '5.0×10⁴' : datum.value == 100000 ? '1.0×10⁵' : datum.value == 150000 ? '1.5×10⁵' : ''",
"tickSize": {"condition": {"test": "datum.value % 50000 === 0", "value": -10}, "value": -6},
"tickColor": "#333", "domainColor": "#333", "labelColor": "#333",
"labelFont": "DejaVu Sans", "labelFontSize": 14, "labelPadding": 10,
"title": "Variance", "titleFont": "DejaVu Sans", "titleFontSize": 15,
"titleFontWeight": "normal", "titleColor": "#333", "titleX": -90, "titleY": 245,
"titleAngle": -90, "titleAlign": "center", "titleBaseline": "middle"}},
"color": {"field": "c", "type": "nominal", "scale": {"domain": ["b", "r"], "range": ["#000000", "#ff0000"]}, "legend": null}
}
},
{
"data": {"name": "dline"},
"mark": {"type": "rule", "strokeWidth": 1, "strokeDash": [3, 2]},
"encoding": {
"x": {"field": "x", "type": "quantitative",
"axis": {"orient": "top", "grid": false,
"values": [-100,0,100,200,300,400,500,600,700,800,900,1000,1100,1200,1300,1400,1500,1600,1700,1800,1900,2000,2100,2200],
"labels": false,
"tickSize": {"condition": {"test": "datum.value % 500 === 0", "value": -9}, "value": -5},
"tickColor": "#333", "domainColor": "#333", "title": null}},
"color": {"field": "col", "type": "nominal", "scale": null}
}
},
{
"data": {"name": "vlines"},
"mark": {"type": "rule", "strokeWidth": 1.5},
"encoding": {
"x": {"field": "x", "type": "quantitative", "axis": null},
"color": {"field": "col", "type": "nominal", "scale": null}
}
},
{
"data": {"name": "segs"},
"mark": {"type": "rule", "strokeWidth": 2.5, "color": "#00c8ff"},
"encoding": {
"x": {"field": "x1", "type": "quantitative", "axis": null},
"x2": {"field": "x2"},
"y": {"field": "y", "type": "quantitative", "axis": null}
}
},
{
"data": {"name": "ends"},
"mark": {"type": "point", "shape": "diamond", "filled": true, "size": 480, "color": "#00c8ff", "opacity": 1},
"encoding": {
"x": {"field": "x", "type": "quantitative", "axis": null},
"y": {"field": "y", "type": "quantitative", "axis": null}
}
},
{
"data": {"name": "labels"},
"mark": {"type": "text", "font": "Liberation Serif", "fontWeight": "bold", "fontSize": 23, "color": "#00c8ff", "align": "center", "baseline": "middle"},
"encoding": {
"x": {"field": "x", "type": "quantitative", "axis": null},
"y": {"field": "y", "type": "quantitative", "axis": null},
"text": {"field": "t"}
}
},
{
"data": {"name": "toplabelsR"},
"mark": {"type": "text", "font": "Liberation Sans", "fontSize": 9.5, "baseline": "middle", "align": "right"},
"encoding": {
"x": {"field": "x", "type": "quantitative", "axis": null},
"y": {"field": "y", "type": "quantitative", "axis": null},
"text": {"field": "t"},
"color": {"field": "col", "type": "nominal", "scale": null}
}
},
{
"data": {"name": "toplabelsL"},
"mark": {"type": "text", "font": "Liberation Sans", "fontSize": 9.5, "baseline": "middle", "align": "left"},
"encoding": {
"x": {"field": "x", "type": "quantitative", "axis": null},
"y": {"field": "y", "type": "quantitative", "axis": null},
"text": {"field": "t"},
"color": {"field": "col", "type": "nominal", "scale": null}
}
}
],
"resolve": {"axis": {"x": "independent", "y": "independent"}}
}
